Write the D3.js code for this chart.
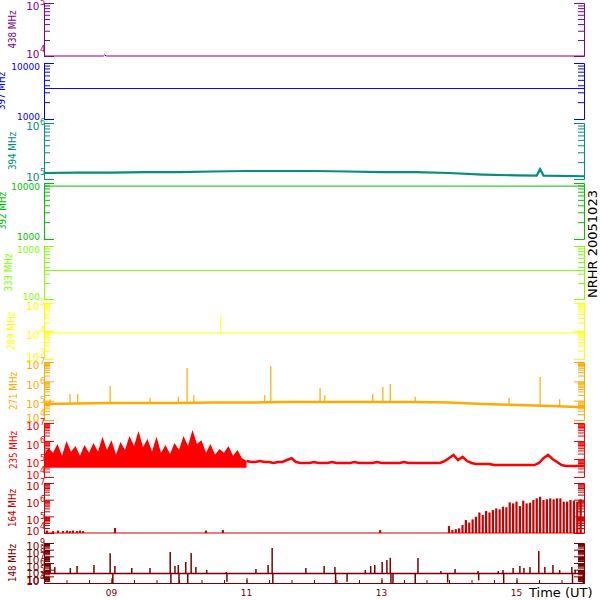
<!DOCTYPE html>
<html><head><meta charset="utf-8">
<script src="https://cdn.jsdelivr.net/npm/d3@7"></script>
<style>body{margin:0;background:#fff}svg{display:block}</style>
</head><body>
<svg id="c" width="600" height="600"></svg>
<script>
// ---------------- DATA ----------------
const timeDomain = [8, 16];                 // hours UT
const xTickHours = [9, 11, 13, 15];
const xTickLabels = ["09", "11", "13", "15"];
const freqLabels = ["438 MHz","397 MHz","394 MHz","392 MHz","333 MHz","289 MHz","271 MHz","235 MHz","164 MHz","148 MHz"];
const yDomains = [[1e4,1e5],[1e3,1e4],[1e5,1e6],[1e3,1e4],[1e2,1e3],[1e3,1e5],[1e4,1e7],[1e4,1e7],[1e4,1e7],[1e3,1e9]];
const labelKinds = ["exp","plain","exp","plain","plain","exp","exp","exp","exp","exp"];
const sideTitle = "NRHR 20051023";
const timeTitle = "Time (UT)";

const s438 = [[8.0,1.0e4],[8.88,1.0e4],[8.9,1.05e4],[8.92,1.0e4],[16.0,1.0e4]];
const s397 = [[8.0,3.5e3],[16.0,3.5e3]];
const s394 = [[8.0,1.28e5],[8.5,1.3e5],[9.0,1.3e5],[9.5,1.33e5],[10.0,1.33e5],[10.5,1.36e5],[11.0,1.39e5],[11.5,1.39e5],[12.0,1.39e5],[12.5,1.36e5],[13.0,1.33e5],[13.5,1.33e5],[14.0,1.28e5],[14.5,1.2e5],[15.0,1.16e5],[15.3,1.15e5],[15.35,1.5e5],[15.4,1.15e5],[16.0,1.12e5]];
const s392 = [[8.0,8.8e3],[16.0,8.8e3]];
const s333 = [[8.0,345],[16.0,345]];
const s289 = [[8.0,8.5e3],[16.0,8.5e3]];
const spikes289 = [[10.62,3.5e4]];
const base271 = [[8.0,6.7e4],[8.5,7.1e4],[9.0,7.6e4],[9.5,7.6e4],[10.0,7.6e4],[10.5,8.0e4],[11.0,8.0e4],[11.5,8.5e4],[12.0,8.5e4],[12.5,8.5e4],[13.0,8.5e4],[13.5,8.5e4],[14.0,8.0e4],[14.5,6.7e4],[15.0,6.0e4],[15.5,5.3e4],[16.0,4.5e4]];
const spikes271 = [[8.09,1.2e5],[8.385,2.2e5],[8.50,2.2e5],[8.98,5.7e5],[9.57,1.4e5],[9.99,1.6e5],[10.12,4.9e6],[10.22,1.9e5],[11.27,1.9e5],[11.36,6.2e6],[12.09,4.5e5],[12.16,1.9e5],[12.87,2.2e5],[13.02,5.1e5],[13.13,7.3e5],[13.50,1.6e5],[14.89,1.4e5],[15.35,1.7e6],[15.64,1.2e5]];
// 235 MHz: upper envelope every 4 minutes from 08:00, lower envelope for the burst period
const grid235StartH = 8.0, grid235StepMin = 4;
const hi235 = [1.7e5,4.1e5,2.2e5,6.8e5,1.5e5,1.0e6,2.5e5,5.3e5,1.5e5,6.0e5,2.2e5,7.7e5,2.5e5,1.7e6,3.2e5,1.1e6,1.7e5,8.8e5,3.2e5,1.9e6,
  5.3e5,3.6e6,4.6e5,1.3e6,2.5e5,1.7e6,2.2e5,6.0e5,1.9e5,7.7e5,3.2e5,1.9e6,5.3e5,4.1e6,6.8e5,1.1e6,2.2e5,6.8e5,1.7e5,3.6e5,
  2.2e5,5.3e5,1.5e5,3.2e5,1.1e5,7.7e4,6.8e4,6.8e4,7.7e4,6.8e4,6.8e4,6.0e4,6.8e4,6.8e4,8.8e4,1.1e5,6.8e4,6.0e4,6.0e4,6.0e4,
  6.8e4,6.0e4,6.0e4,6.0e4,6.8e4,6.0e4,6.0e4,6.0e4,6.0e4,6.8e4,6.0e4,6.0e4,6.0e4,6.0e4,6.8e4,6.0e4,6.0e4,6.0e4,6.0e4,6.0e4,
  6.8e4,6.0e4,6.0e4,6.0e4,6.0e4,6.0e4,6.0e4,6.0e4,6.0e4,7.7e4,1.1e5,1.7e5,8.8e4,1.3e5,7.7e4,6.0e4,5.3e4,5.3e4,5.3e4,5.3e4,
  4.6e4,4.6e4,4.6e4,4.6e4,4.6e4,4.6e4,4.6e4,4.6e4,4.6e4,4.6e4,6.0e4,1.1e5,1.7e5,1.0e5,6.8e4,4.6e4,4.1e4,4.1e4,4.1e4,4.1e4,4.1e4];
const lo235 = [3.3e4,3.3e4,3.3e4,3.3e4,3.3e4,3.3e4,3.3e4,3.3e4,3.3e4,3.3e4,3.3e4,3.3e4,3.3e4,3.3e4,3.3e4,3.3e4,3.3e4,3.3e4,3.3e4,3.3e4,
  3.3e4,3.3e4,3.3e4,3.3e4,3.3e4,3.3e4,3.3e4,3.3e4,3.3e4,3.3e4,3.3e4,3.3e4,3.3e4,3.3e4,3.3e4,3.3e4,3.3e4,3.3e4,3.3e4,3.3e4,
  3.3e4,3.3e4,3.3e4,3.3e4,3.3e4,3.3e4];
const s164 = [[8.0,1.0e4],[16.0,1.0e4]];
const spikes164 = [[8.044,1.4e4],[8.133,1.3e4],[8.207,1.4e4],[8.281,1.3e4],[8.341,1.4e4],[8.385,1.3e4],[8.43,1.4e4],[8.489,1.3e4],[8.533,1.4e4],[8.578,1.3e4],[9.052,2.0e4],[10.4,1.4e4],[10.65,1.5e4],[12.98,1.5e4]];
const comb164StartH = 14.0, comb164StepMin = 3;
const comb164 = [2.6e4,1.5e4,1.7e4,1.9e4,3.0e4,6.0e4,4.2e4,6.6e4,9.5e4,1.7e5,1.2e5,2.1e5,1.7e5,2.4e5,3.0e5,2.6e5,3.8e5,3.5e5,6.9e5,6.0e5,
  7.6e5,4.2e5,8.7e5,6.0e5,6.6e5,9.5e5,1.2e6,1.5e6,9.5e5,1.05e6,1.2e6,1.05e6,1.2e6,1.2e6,7.6e5,7.6e5,9.5e5,8.7e5,7.6e5,1.05e6];
const s148 = [[8.0,2.6e4],[16.0,2.6e4]];
const spikes148 = [[8.09,7.1e5],[8.16,2.5e5],[8.39,1.8e5],[8.49,3.5e5],[8.74,5e5],[8.98,3.0e7],[9.02,1.0e3],[9.05,3.5e5],[9.30,1.8e5],[9.57,1.8e5],
  [9.87,4.4e7],[9.88,1.0e3],[9.94,3.5e5],[9.99,5e5],[10.00,1.0e3],[10.10,1.4e6],[10.13,1.0e3],[10.18,3.2e7],[10.25,2.5e5],[10.41,8.9e4],
  [10.70,4.5e4],[10.71,1.5e3],[11.14,1.3e5],[11.32,5e5],[11.38,1.8e8],[11.39,1.0e3],[11.88,1.8e5],[12.15,3.5e5],[12.31,2.5e5],[12.32,1.0e3],
  [12.49,1.5e3],[12.76,8.9e4],[12.84,3.5e5],[12.90,5e5],[13.01,1.4e6],[13.08,2.8e6],[13.13,6.0e6],[13.14,1.0e3],[13.17,1.0e3],[13.50,1.0e3],
  [13.54,5.6e6],[13.88,6.3e4],[13.98,1.2e3],[14.09,1.3e5],[14.43,6.3e4],[14.44,2.5e3],[14.73,6.3e4],[14.80,8.9e4],[14.81,1.0e3],[14.95,1.8e5],
  [15.05,3.5e5],[15.11,1.8e5],[15.20,2.5e5],[15.33,6.3e7],[15.42,2.5e5],[15.54,5e5],[15.64,8.9e4],[15.82,2.5e5],[15.83,1.0e3],[15.87,8.9e4],[15.99,1.0e3]];

// ---------------- LAYOUT / STYLE ----------------
const panelTop    = [3, 63, 123, 183, 246, 303, 362, 423, 483, 543];
const panelBottom = [56, 119, 179, 239, 299, 359, 420, 477, 533, 583];
const colors = ["#800090","#0000ff","#008f7a","#00c000","#80ff00","#ffff00","#ffaa00","#ff0000","#c80000","#780000"];
const titleX = [12.5, 1.5, 12.5, 2.5, 8, 11.5, 13, 13, 12.5, 12.5];
const lineW = [1, 1, 2.2, 1, 1, 1, 2.5, 2.5, 1, 1.5];
const FONT = "'DejaVu Sans', sans-serif";
const X0 = 44, X1 = 584;

const svg = d3.select("#c");
const x = d3.scaleLinear().domain(timeDomain).range([X0, X1]);

const pts235 = hi235.map((v, k) => [grid235StartH + k * grid235StepMin / 60, v]);
const baseSeries = [s438, s397, s394, s392, s333, s289, base271, pts235, s164, s148];
const lineSeries = [s438, s397, s394, s392, s333, s289, base271, pts235.slice(lo235.length - 1), s164, s148];
const spikeSeries = [null, null, null, null, null, spikes289, spikes271, null,
  spikes164.concat(comb164.map((v, k) => [comb164StartH + k * comb164StepMin / 60, v])), spikes148];
const spikeW = [0, 0, 0, 0, 0, 1, 1.2, 0, 2.2, 1.5];

function isPow10(v){ const l = Math.log10(v); return Math.abs(l - Math.round(l)) < 1e-9; }
function baseAt(series, t){
  for (let k = 0; k < series.length - 1; k++){
    const a = series[k], b = series[k+1];
    if (t >= a[0] && t <= b[0]){
      const f = (t - a[0]) / (b[0] - a[0]);
      return Math.pow(10, Math.log10(a[1]) + f * (Math.log10(b[1]) - Math.log10(a[1])));
    }
  }
  return series[series.length-1][1];
}

freqLabels.forEach((lab, i) => {
  const col = colors[i];
  const y = d3.scaleLog().domain(yDomains[i]).range([panelBottom[i], panelTop[i]]);
  const g = svg.append("g").attr("color", col);
  const ticks = y.ticks();
  const majors = ticks.filter(isPow10), minors = ticks.filter(v => !isPow10(v));

  // left axis (ticks pointing inward)
  g.append("g").attr("transform", `translate(${X0},0)`)
    .call(d3.axisRight(y).tickValues(minors).tickSize(6).tickSizeOuter(0).tickFormat(""));
  g.append("g").attr("transform", `translate(${X0},0)`)
    .call(d3.axisRight(y).tickValues(majors).tickSize(10).tickSizeOuter(0).tickFormat(""));
  // right axis
  g.append("g").attr("transform", `translate(${X1},0)`)
    .call(d3.axisLeft(y).tickValues(minors).tickSize(6).tickSizeOuter(0).tickFormat(""));
  g.append("g").attr("transform", `translate(${X1},0)`)
    .call(d3.axisLeft(y).tickValues(majors).tickSize(10).tickSizeOuter(0).tickFormat(""));
  g.selectAll("text").remove();

  // tick labels
  const dLo = yDomains[i][0];
  majors.forEach(v => {
    const ty = y(v);
    const isBottom = Math.abs(v - dLo) < 1e-9 * v;
    const isTop = Math.abs(v - yDomains[i][1]) < 1e-9 * v;
    const c = isBottom ? ty - 2 : (isTop ? ty + 3.5 : ty + 4);
    if (labelKinds[i] === "plain"){
      g.append("text").attr("x", 40).attr("y", c + 3.3).attr("text-anchor", "end")
        .attr("font-family", FONT).attr("font-size", 9).attr("fill", col).text(d3.format("d")(v));
    } else {
      g.append("text").attr("x", 39.5).attr("y", c + 3.8).attr("text-anchor", "end")
        .attr("font-family", FONT).attr("font-size", 10.5).attr("fill", col).text("10");
      g.append("text").attr("x", 40).attr("y", c - 4.5 + 2.9)
        .attr("font-family", FONT).attr("font-size", 8).attr("fill", col)
        .text(String(Math.round(Math.log10(v))));
    }
  });

  // frequency title
  const cy = (panelTop[i] + panelBottom[i]) / 2;
  const bx = titleX[i] + 3.6;
  g.append("text").attr("transform", `translate(${bx},${cy}) rotate(-90)`)
    .attr("text-anchor", "middle").attr("font-family", FONT).attr("font-size", 10)
    .attr("textLength", 38).attr("lengthAdjust", "spacingAndGlyphs")
    .attr("fill", col).text(lab);

  // filled envelope for the 235 MHz burst period
  if (i === 7){
    const pts = lo235.map((lo, k) => [grid235StartH + k * grid235StepMin / 60, hi235[k], lo]);
    g.append("path").datum(pts).attr("fill", col).attr("stroke", "none")
      .attr("d", d3.area().x(d => x(d[0])).y0(d => y(d[2])).y1(d => y(d[1])));
  }
  // base line
  g.append("path").datum(lineSeries[i]).attr("fill", "none").attr("stroke", col)
    .attr("stroke-width", lineW[i])
    .attr("d", d3.line().x(d => x(d[0])).y(d => y(d[1])));
  // spikes
  if (spikeSeries[i]){
    g.selectAll("line.sp").data(spikeSeries[i]).enter().append("line").attr("class", "sp")
      .attr("x1", d => x(d[0])).attr("x2", d => x(d[0]))
      .attr("y1", d => y(baseAt(baseSeries[i], d[0]))).attr("y2", d => y(d[1]))
      .attr("stroke", col).attr("stroke-width", spikeW[i]);
  }
});

// time axis
const xAxisCol = colors[9];
const minorHours = d3.range(0, 25).map(k => timeDomain[0] + k / 3);
const xa = svg.append("g").attr("color", xAxisCol).attr("transform", `translate(0,${panelBottom[9]})`);
xa.call(d3.axisTop(x).tickValues(minorHours).tickSize(3).tickSizeOuter(0).tickFormat(""));
xa.selectAll("text").remove();
svg.append("g").attr("color", xAxisCol).attr("transform", `translate(0,${panelBottom[9]})`)
  .call(d3.axisTop(x).tickValues(xTickHours).tickSize(5).tickSizeOuter(0).tickFormat(""))
  .selectAll("text").remove();
xTickHours.forEach((h, k) => {
  svg.append("text").attr("x", x(h)).attr("y", 596).attr("text-anchor", "middle")
    .attr("font-family", FONT).attr("font-size", 9).attr("fill", xAxisCol).text(xTickLabels[k]);
});
svg.append("text").attr("x", 529).attr("y", 596.5).attr("font-family", FONT).attr("font-size", 13)
  .attr("fill", "#000").text(timeTitle);
svg.append("text").attr("transform", "translate(596.5,244) rotate(-90)").attr("text-anchor", "middle")
  .attr("font-family", FONT).attr("font-size", 13).attr("fill", "#000").text(sideTitle);
</script>
</body></html>
